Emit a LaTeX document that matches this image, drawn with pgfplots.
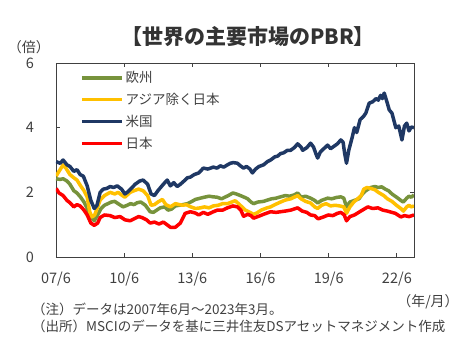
\documentclass[border=0pt]{standalone}
\usepackage{pgfplots}
\pgfplotsset{compat=1.18}
\usepackage{fontspec}
\setmainfont{Noto Sans CJK JP}
\definecolor{euC}{HTML}{77933C}
\definecolor{asC}{HTML}{FFC000}
\definecolor{usC}{HTML}{1F3864}
\definecolor{jpC}{HTML}{FF0000}
\definecolor{txt}{HTML}{404040}
\begin{document}
\begin{tikzpicture}
\path[use as bounding box] (-56pt,-94pt) rectangle (419pt,257pt);
\begin{axis}[
  scale only axis, width=358pt, height=194pt,
  at={(0pt,0pt)}, anchor=south west,
  xmin=2007.417, xmax=2023.17, ymin=0, ymax=6,
  xtick={2007.417,2010.417,2013.417,2016.417,2019.417,2022.417},
  xticklabels={07/6,10/6,13/6,16/6,19/6,22/6},
  ytick={0,2,4,6},
  tick align=inside, major tick length=4pt,
  axis line style={txt, line width=0.9pt},
  tick style={txt, line width=0.8pt},
  /pgf/number format/assume math mode=true,
  ticklabel style={font=\fontsize{14.5}{14.5}\selectfont, text=txt},
  yticklabel style={anchor=center, xshift=-26pt},
  xticklabel style={anchor=center, yshift=-22pt},
  legend style={at={(rel axis cs:0.067,0.968)}, anchor=north west, draw=none, fill=none,
    font=\fontsize{13.5}{13.5}\selectfont, text=txt, row sep=5pt, inner sep=0pt},
  legend cell align=left,
  legend image code/.code={\draw[#1] (0pt,0pt) -- (40pt,0pt);},
  every axis plot/.append style={line width=3.5pt, line join=round},
]
\addplot[euC] table {
2007.42 2.42
2007.60 2.40
2007.73 2.42
2007.90 2.35
2008.03 2.25
2008.20 2.05
2008.34 1.98
2008.50 1.85
2008.65 1.70
2008.79 1.50
2008.95 1.25
2009.10 1.12
2009.25 1.30
2009.40 1.50
2009.55 1.60
2009.70 1.65
2009.85 1.70
2010.00 1.72
2010.15 1.65
2010.37 1.55
2010.55 1.60
2010.70 1.65
2010.85 1.62
2010.99 1.68
2011.15 1.70
2011.35 1.60
2011.56 1.40
2011.70 1.38
2011.85 1.45
2012.00 1.52
2012.20 1.55
2012.35 1.45
2012.50 1.48
2012.67 1.58
2012.85 1.60
2013.00 1.62
2013.20 1.65
2013.40 1.72
2013.55 1.78
2013.77 1.82
2013.95 1.85
2014.15 1.88
2014.34 1.86
2014.50 1.85
2014.70 1.80
2014.85 1.85
2015.00 1.90
2015.20 1.98
2015.35 1.95
2015.53 1.90
2015.70 1.85
2015.85 1.80
2016.00 1.70
2016.11 1.65
2016.30 1.70
2016.55 1.72
2016.72 1.76
2016.90 1.80
2017.10 1.82
2017.30 1.86
2017.50 1.90
2017.70 1.88
2017.90 1.92
2018.05 1.98
2018.20 1.85
2018.40 1.88
2018.62 1.82
2018.80 1.75
2018.93 1.67
2019.10 1.75
2019.37 1.82
2019.55 1.80
2019.75 1.84
2019.95 1.86
2020.08 1.82
2020.20 1.55
2020.35 1.70
2020.55 1.75
2020.75 1.80
2020.90 1.95
2021.05 2.05
2021.27 2.15
2021.45 2.18
2021.60 2.15
2021.75 2.17
2021.90 2.10
2022.05 2.05
2022.20 1.95
2022.40 1.85
2022.59 1.75
2022.70 1.70
2022.85 1.82
2022.95 1.88
2023.05 1.85
2023.17 1.92
};
\addlegendentry{欧州}
\addplot[asC] table {
2007.42 2.50
2007.55 2.65
2007.73 2.85
2007.85 2.75
2008.03 2.55
2008.20 2.45
2008.34 2.38
2008.50 2.20
2008.65 2.05
2008.79 1.85
2008.90 1.40
2009.00 1.24
2009.12 1.30
2009.25 1.55
2009.36 1.76
2009.55 1.90
2009.80 2.00
2010.00 1.95
2010.15 2.00
2010.30 1.92
2010.45 1.85
2010.68 2.00
2010.85 2.05
2011.05 2.10
2011.25 2.05
2011.45 1.90
2011.60 1.60
2011.75 1.62
2011.90 1.70
2012.10 1.78
2012.25 1.62
2012.45 1.55
2012.67 1.65
2012.85 1.62
2013.00 1.60
2013.15 1.62
2013.35 1.55
2013.55 1.50
2013.77 1.52
2013.95 1.55
2014.15 1.52
2014.34 1.58
2014.55 1.60
2014.75 1.65
2014.96 1.65
2015.15 1.70
2015.30 1.74
2015.45 1.65
2015.60 1.55
2015.75 1.45
2015.90 1.40
2016.11 1.32
2016.25 1.36
2016.45 1.45
2016.70 1.52
2016.86 1.55
2017.05 1.62
2017.30 1.70
2017.50 1.76
2017.75 1.80
2018.05 1.90
2018.20 1.80
2018.40 1.72
2018.62 1.67
2018.80 1.55
2018.93 1.50
2019.10 1.60
2019.30 1.65
2019.50 1.58
2019.70 1.60
2019.90 1.58
2020.08 1.55
2020.20 1.35
2020.35 1.55
2020.52 1.70
2020.69 1.80
2020.85 1.90
2020.96 2.10
2021.10 2.15
2021.27 2.12
2021.45 2.08
2021.60 2.00
2021.84 1.90
2022.00 1.80
2022.20 1.72
2022.40 1.60
2022.59 1.50
2022.70 1.42
2022.85 1.55
2022.95 1.60
2023.05 1.55
2023.17 1.58
};
\addlegendentry{アジア除く日本}
\addplot[usC] table {
2007.42 2.95
2007.60 2.90
2007.73 3.00
2007.90 2.85
2008.03 2.80
2008.20 2.65
2008.34 2.70
2008.48 2.55
2008.62 2.50
2008.79 2.20
2008.95 1.75
2009.10 1.50
2009.22 1.60
2009.36 2.00
2009.50 2.10
2009.65 2.12
2009.80 2.18
2009.95 2.15
2010.11 2.20
2010.30 2.10
2010.45 1.95
2010.55 2.00
2010.70 2.10
2010.90 2.25
2011.10 2.35
2011.25 2.38
2011.45 2.25
2011.60 1.95
2011.75 1.90
2011.90 2.05
2012.14 2.25
2012.31 2.38
2012.45 2.20
2012.60 2.30
2012.75 2.18
2012.89 2.25
2013.05 2.35
2013.20 2.45
2013.33 2.47
2013.50 2.55
2013.70 2.60
2013.90 2.75
2014.10 2.72
2014.34 2.78
2014.50 2.75
2014.65 2.82
2014.80 2.78
2014.96 2.85
2015.09 2.90
2015.22 2.92
2015.40 2.90
2015.53 2.82
2015.67 2.75
2015.80 2.80
2015.95 2.72
2016.06 2.60
2016.20 2.72
2016.35 2.80
2016.55 2.85
2016.72 2.95
2016.86 3.00
2017.05 3.10
2017.17 3.12
2017.30 3.20
2017.43 3.22
2017.60 3.30
2017.74 3.30
2017.90 3.38
2018.05 3.50
2018.20 3.40
2018.27 3.30
2018.45 3.38
2018.62 3.52
2018.75 3.40
2018.85 3.20
2018.93 3.06
2019.05 3.25
2019.20 3.35
2019.37 3.46
2019.50 3.35
2019.64 3.42
2019.80 3.50
2019.95 3.62
2020.05 3.55
2020.12 3.20
2020.20 2.90
2020.30 3.30
2020.45 3.70
2020.55 4.00
2020.65 3.85
2020.80 4.25
2020.95 4.35
2021.05 4.45
2021.20 4.76
2021.35 4.80
2021.50 4.90
2021.60 4.85
2021.70 5.00
2021.78 4.90
2021.86 5.07
2022.00 4.75
2022.08 4.55
2022.20 4.45
2022.37 4.00
2022.50 4.05
2022.64 3.62
2022.75 4.05
2022.85 4.14
2022.95 3.90
2023.05 4.02
2023.17 4.00
};
\addlegendentry{米国}
\addplot[jpC] table {
2007.42 2.12
2007.55 1.98
2007.73 1.90
2007.90 1.75
2008.03 1.68
2008.20 1.55
2008.34 1.62
2008.48 1.58
2008.65 1.45
2008.79 1.30
2008.95 1.05
2009.10 0.98
2009.25 1.05
2009.36 1.22
2009.55 1.30
2009.80 1.28
2010.00 1.22
2010.24 1.25
2010.45 1.15
2010.68 1.12
2010.85 1.18
2011.05 1.25
2011.20 1.22
2011.40 1.15
2011.56 1.05
2011.75 1.08
2011.95 1.02
2012.14 1.08
2012.30 1.00
2012.45 0.92
2012.67 0.92
2012.89 1.05
2013.10 1.35
2013.33 1.40
2013.55 1.36
2013.70 1.30
2013.90 1.38
2014.10 1.32
2014.34 1.40
2014.52 1.45
2014.75 1.45
2014.96 1.52
2015.20 1.58
2015.40 1.55
2015.55 1.45
2015.67 1.26
2015.85 1.32
2016.00 1.28
2016.11 1.20
2016.30 1.25
2016.55 1.32
2016.86 1.40
2017.10 1.38
2017.30 1.40
2017.50 1.42
2017.75 1.45
2018.05 1.52
2018.25 1.42
2018.45 1.38
2018.62 1.30
2018.80 1.28
2018.95 1.18
2019.19 1.24
2019.40 1.30
2019.60 1.28
2019.80 1.35
2019.95 1.38
2020.10 1.30
2020.20 1.12
2020.35 1.25
2020.55 1.30
2020.69 1.36
2020.90 1.45
2021.14 1.55
2021.35 1.50
2021.58 1.52
2021.80 1.45
2022.00 1.42
2022.15 1.39
2022.35 1.35
2022.59 1.24
2022.75 1.28
2022.95 1.25
2023.17 1.30
};
\addlegendentry{日本}
\end{axis}
\node[font=\fontsize{21}{21}\selectfont\bfseries, text=txt!80!black] at (192pt,220pt) {【世界の主要市場のPBR】};
\node[font=\fontsize{14}{14}\selectfont, text=txt] at (-27pt,210pt) {（倍）};
\node[font=\fontsize{14}{14}\selectfont, text=txt] at (372pt,-45pt) {（年/月）};
\node[font=\fontsize{13.5}{16.5}\selectfont, text=txt, anchor=north west, align=left, inner sep=0pt] at (-24pt,-46pt) {（注）データは2007年6月～2023年3月。\\（出所）MSCIのデータを基に三井住友DSアセットマネジメント作成};
\end{tikzpicture}
\end{document}
